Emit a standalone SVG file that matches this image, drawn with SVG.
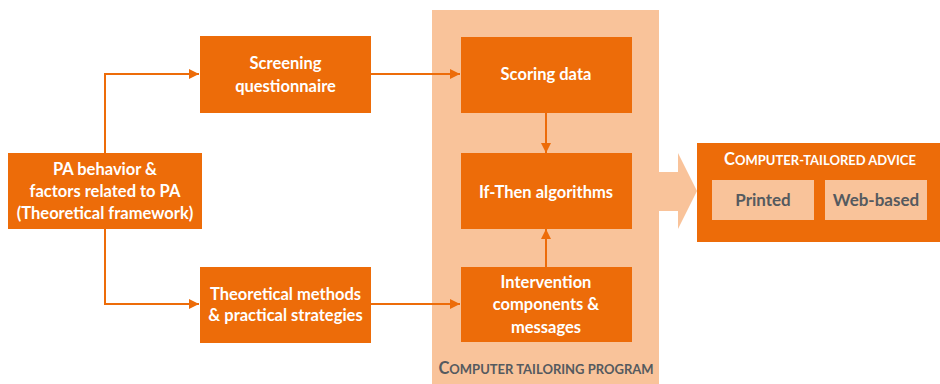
<svg xmlns="http://www.w3.org/2000/svg" width="940" height="384" viewBox="0 0 940 384">
  <defs>
    <style>
      .box { fill: #ED6C09; }
      .light { fill: #F9C39A; }
      .lbl { font-family: Lato, "Open Sans", "Liberation Sans", sans-serif; font-weight: 700; font-size: 16.5px; fill: #FFFFFF; text-anchor: middle; }
      .opt { font-size: 17px; }
      .dark { fill: #555A5F; }
      .cap { font-family: Lato, "Open Sans", "Liberation Sans", sans-serif; font-weight: 700; text-anchor: middle; }
      .big { font-size: 16.5px; }
      .sm { font-size: 13px; }
      .wire { fill: none; stroke: #ED6C09; stroke-width: 2; }
    </style>
    <marker id="arrow" viewBox="0 0 10 10" refX="10" refY="5" markerWidth="10" markerHeight="10" markerUnits="userSpaceOnUse" orient="auto">
      <path d="M0,0 L10,5 L0,10 z" fill="#ED6C09"/>
    </marker>
  </defs>

  <!-- program container -->
  <g id="program">
    <rect class="light" x="432" y="10" width="227" height="374"/>
    <text class="cap dark" x="546" y="374"><tspan class="big">C</tspan><tspan class="sm">OMPUTER TAILORING PROGRAM</tspan></text>
  </g>

  <!-- wide arrow into advice -->
  <g id="output-arrow">
    <path class="light" d="M659,172 L678,172 L678,153 L697,191 L678,229 L678,211 L659,211 z"/>
  </g>

  <g id="connectors">
    <path class="wire" d="M105,153 V74 H199" marker-end="url(#arrow)"/>
    <path class="wire" d="M105,229 V304 H199" marker-end="url(#arrow)"/>
    <path class="wire" d="M371,74 H460" marker-end="url(#arrow)"/>
    <path class="wire" d="M371,304 H460" marker-end="url(#arrow)"/>
    <path class="wire" d="M546,113 V153" marker-end="url(#arrow)"/>
    <path class="wire" d="M546,267 V229" marker-end="url(#arrow)"/>
  </g>

  <g id="pa-behavior">
    <rect class="box" x="8" y="153" width="194" height="76"/>
    <text class="lbl" x="105" y="175">PA behavior &amp;</text>
    <text class="lbl" x="105" y="197">factors related to PA</text>
    <text class="lbl" x="105" y="219">(Theoretical framework)</text>
  </g>

  <g id="screening">
    <rect class="box" x="200" y="36" width="171" height="77"/>
    <text class="lbl" x="285.5" y="69">Screening</text>
    <text class="lbl" x="285.5" y="92">questionnaire</text>
  </g>

  <g id="methods">
    <rect class="box" x="200" y="267" width="171" height="76"/>
    <text class="lbl" x="285.5" y="300">Theoretical methods</text>
    <text class="lbl" x="285.5" y="321">&amp; practical strategies</text>
  </g>

  <g id="scoring">
    <rect class="box" x="461" y="37" width="171" height="76"/>
    <text class="lbl" x="546" y="80">Scoring data</text>
  </g>

  <g id="algorithms">
    <rect class="box" x="461" y="153" width="171" height="76"/>
    <text class="lbl" x="546" y="198">If-Then algorithms</text>
  </g>

  <g id="intervention">
    <rect class="box" x="461" y="267" width="171" height="75"/>
    <text class="lbl" x="546" y="288">Intervention</text>
    <text class="lbl" x="546" y="310">components &amp;</text>
    <text class="lbl" x="546" y="333">messages</text>
  </g>

  <g id="advice">
    <rect class="box" x="697" y="143" width="243" height="99"/>
    <text class="cap" x="820" y="165" fill="#FFFFFF"><tspan class="big">C</tspan><tspan class="sm">OMPUTER-TAILORED ADVICE</tspan></text>
    <rect class="light" x="712" y="180" width="102" height="40"/>
    <text class="lbl opt dark" x="763" y="205.5">Printed</text>
    <rect class="light" x="825" y="180" width="102" height="40"/>
    <text class="lbl opt dark" x="876" y="205.5">Web-based</text>
  </g>
</svg>
